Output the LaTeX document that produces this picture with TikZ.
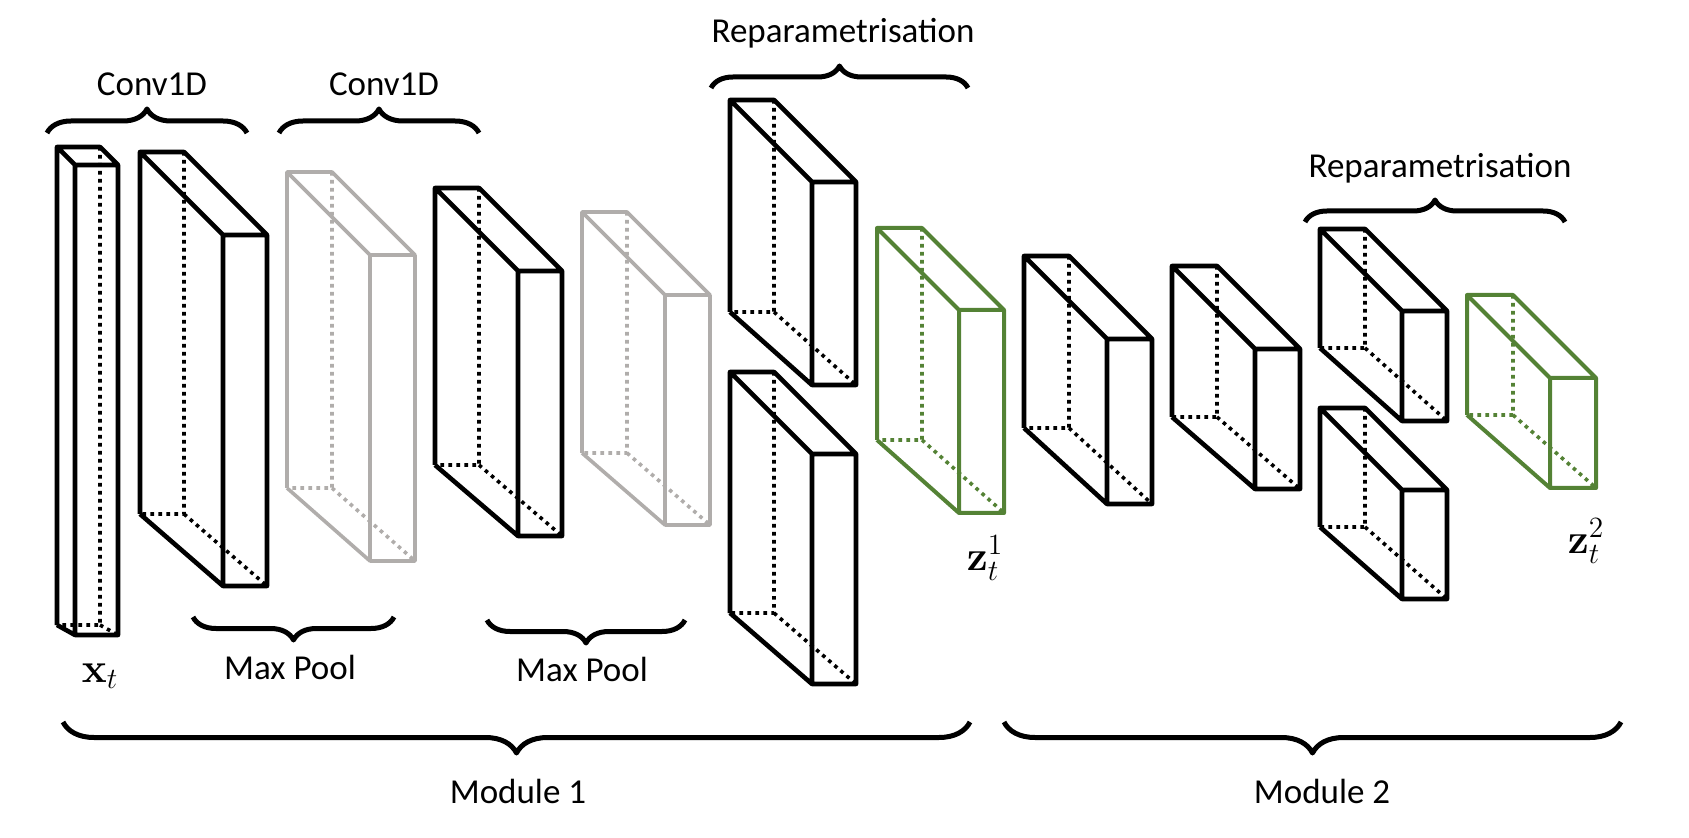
\RequirePackage{fix-cm}
\documentclass[tikz,border=0pt]{standalone}
\usepackage[no-math]{fontspec}
\setmainfont{Carlito}
\usepackage{amsmath}
\usetikzlibrary{decorations.pathreplacing}
\definecolor{boxgray}{RGB}{176,173,171}
\definecolor{boxgreen}{RGB}{84,130,53}

% style, x, y, width, depth, back height, front height
\newcommand{\layer}[7]{%
  \draw[#1,hidden] (#2+#4,#3) -- (#2+#4,#3+#6) -- (#2,#3+#6) (#2+#4,#3+#6) -- (#2+#4+#5,#3+#5+#7);
  \draw[#1] (#2,#3+#6) -- (#2,#3) -- (#2+#4,#3) -- (#2+#4+#5,#3+#5)
    (#2,#3) -- (#2+#5,#3+#5) (#2,#3+#6) -- (#2+#5,#3+#5+#7)
    (#2+#5,#3+#5) rectangle (#2+#5+#4,#3+#5+#7);
}

\begin{document}
\begin{tikzpicture}[x=0.5pt, y=-0.5pt, line join=round]
			\tikzstyle{layer}=[line width=2.3pt, black]
			\tikzstyle{pool}=[line width=1.8pt, boxgray]
			\tikzstyle{latent}=[line width=2pt, boxgreen]
			\tikzstyle{hidden}=[line width=1.8pt, dash pattern=on 1.8pt off 2.2pt]
			\tikzstyle{curly}=[decorate, line width=2.5pt, decoration={brace, amplitude=12pt}]
			\tikzstyle{txt}=[font=\fontsize{17.5}{21}\selectfont, anchor=base, inner sep=0pt]
			\tikzstyle{var}=[font=\fontsize{21}{25}\selectfont, anchor=base, inner sep=0pt]
			
			\useasboundingbox (0,0) rectangle (1689,838);
			
			% module 1
			\layer{layer}{57}{147}{43}{18}{478}{470}
			\layer{layer}{140}{152}{44}{83}{362}{351}
			\layer{pool}{287}{172}{45}{83}{316}{306}
			\layer{layer}{435}{188}{44}{83}{277}{265}
			\layer{pool}{582}{212}{45}{83}{241}{230}
			\layer{layer}{730}{100}{44}{82}{212}{203}
			\layer{layer}{730}{372}{44}{82}{241}{230}
			\layer{latent}{877}{228}{45}{82}{212}{203}
			% module 2
			\layer{layer}{1024}{256}{45}{83}{172}{165}
			\layer{layer}{1172}{266}{45}{83}{151}{140}
			\layer{layer}{1320}{229}{45}{82}{119}{110}
			\layer{layer}{1320}{408}{45}{82}{119}{109}
			\layer{latent}{1467}{295}{46}{83}{120}{110}
			
			\node[txt] (conv_1) at (152,96)  {Conv1D};
			\node[txt] (conv_2) at (384,96)  {Conv1D};
			\node[txt] (rep_1)  at (843,43)  {Reparametrisation};
			\node[txt] (rep_2)  at (1440,178) {Reparametrisation};
			\node[txt] (pool_1) at (290,679) {Max Pool};
			\node[txt] (pool_2) at (582,681) {Max Pool};
			\node[txt] (mod_1)  at (518,803) {Module 1};
			\node[txt] (mod_2)  at (1322,803) {Module 2};
			\node[var] (x_t) at (100,682)  {$\mathbf{x}_t$};
			\node[var] (z_1) at (985,570)  {$\mathbf{z}_t^1$};
			\node[var] (z_2) at (1586,553) {$\mathbf{z}_t^2$};
			
			% brace ends
			\coordinate (c_1a) at (47,133);   \coordinate (c_1b) at (247,133);
			\coordinate (c_2a) at (279,133);  \coordinate (c_2b) at (479,133);
			\coordinate (r_1a) at (711,88);   \coordinate (r_1b) at (968,88);
			\coordinate (r_2a) at (1305,222); \coordinate (r_2b) at (1565,222);
			\coordinate (p_1a) at (193,617);  \coordinate (p_1b) at (394,617);
			\coordinate (p_2a) at (487,620);  \coordinate (p_2b) at (685,620);
			\coordinate (m_1a) at (63,722);   \coordinate (m_1b) at (970,722);
			\coordinate (m_2a) at (1004,722); \coordinate (m_2b) at (1621,722);
			
			\draw[curly] (c_1a) -- (c_1b);
			\draw[curly] (c_2a) -- (c_2b);
			\draw[curly, decoration={amplitude=11pt}] (r_1a) -- (r_1b);
			\draw[curly, decoration={amplitude=11pt}] (r_2a) -- (r_2b);
			\draw[curly, decoration={amplitude=11.5pt}] (p_1b) -- (p_1a);
			\draw[curly, decoration={amplitude=11.5pt}] (p_2b) -- (p_2a);
			\draw[curly, decoration={amplitude=15.5pt}] (m_1b) -- (m_1a);
			\draw[curly, decoration={amplitude=15.5pt}] (m_2b) -- (m_2a);
		\end{tikzpicture}
\end{document}
